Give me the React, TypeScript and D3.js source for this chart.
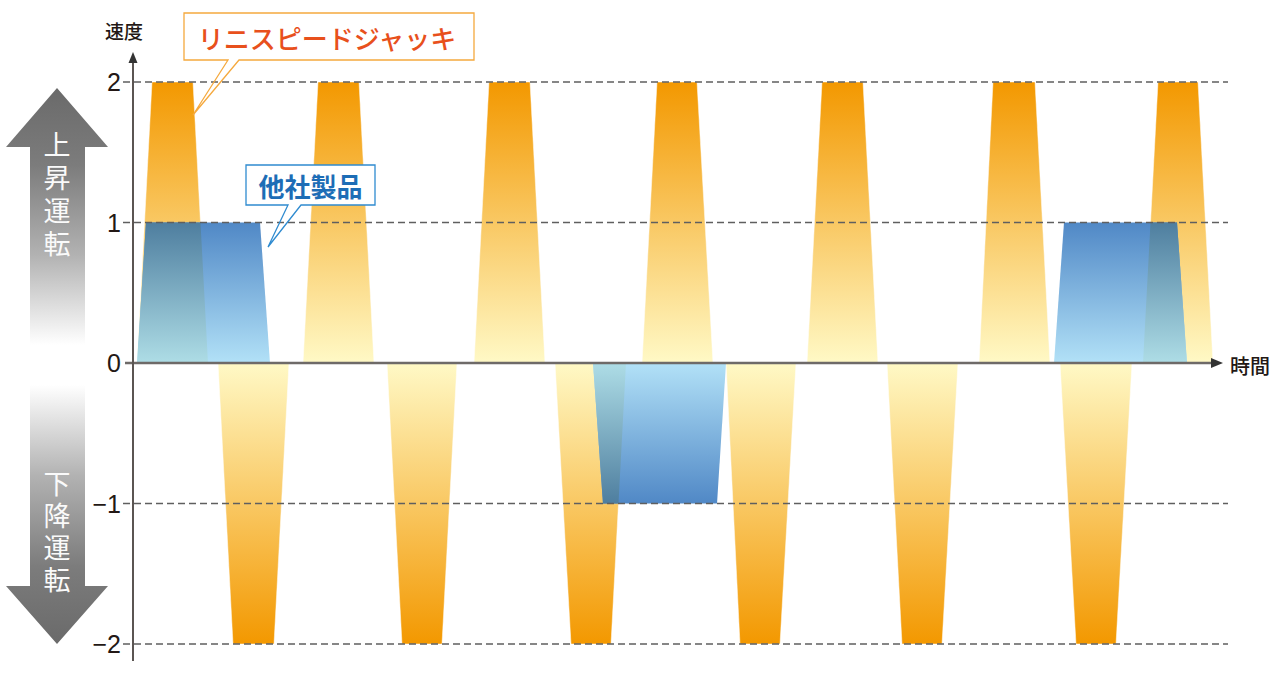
import React from "react"
import * as d3 from "d3"

// speed profiles, time in arbitrary units (0..108), speed in steps (-2..2)
const jackTimes: number[][] = [
  [0.4, 1.9, 6.0, 7.5],
  [8.5, 10.0, 14.1, 15.6],
  [17.0, 18.5, 22.6, 24.1],
  [25.4, 26.9, 30.9, 32.4],
  [34.1, 35.6, 39.7, 41.2],
  [42.2, 43.8, 47.8, 49.3],
  [50.9, 52.4, 56.4, 58.0],
  [59.3, 60.7, 64.7, 66.3],
  [67.4, 68.9, 73.0, 74.5],
  [75.4, 76.9, 80.9, 82.5],
  [84.6, 86.0, 90.2, 91.7],
  [92.7, 94.3, 98.3, 99.9],
  [101.0, 102.5, 106.5, 108.0],
]
const jackSpeeds = [2, -2, 2, -2, 2, -2, 2, -2, 2, -2, 2, -2, 2]

const otherTimes: number[][] = [
  [0.4, 1.3, 12.7, 13.7],
  [46.0, 47.0, 58.4, 59.3],
  [92.1, 93.1, 104.4, 105.4],
]
const otherSpeeds = [1, -1, 1]

const yTicks = [2, 1, 0, -1, -2]
const yTickLabels = ["2", "1", "0", "−1", "−2"]
const gridTicks = [2, 1, -1, -2]

const yTitle = "速度"
const xTitle = "時間"
const jackLabel = "リニスピードジャッキ"
const otherLabel = "他社製品"
const upLabel = "上昇運転"
const downLabel = "下降運転"

const W = 1280
const H = 680
const JP = "'Noto Sans CJK JP', 'Noto Sans', sans-serif"
const NUM = "'Liberation Sans', Arial, sans-serif"

type Pt = { t: number; v: number }

const toPoints = (times: number[], v: number): Pt[] => [
  { t: times[0], v: 0 },
  { t: times[1], v },
  { t: times[2], v },
  { t: times[3], v: 0 },
]

export default function App() {
  const x = d3.scaleLinear().domain([0, 108]).range([133, 1213])
  const y = d3.scaleLinear().domain([-2, 2]).range([644, 82])

  const area = d3
    .area<Pt>()
    .x((d) => x(d.t))
    .y0(y(0))
    .y1((d) => y(d.v))

  const jackPaths = jackTimes.map((tt, i) => ({
    d: area(toPoints(tt, jackSpeeds[i])) as string,
    up: jackSpeeds[i] > 0,
  }))
  const otherPaths = otherTimes.map((tt, i) => ({
    d: area(toPoints(tt, otherSpeeds[i])) as string,
    up: otherSpeeds[i] > 0,
  }))

  const axisX0 = x.range()[0]
  const gridEnd = 1228

  const grad = (id: string, from: number, to: number, stops: [string, string][]) => (
    <linearGradient id={id} gradientUnits="userSpaceOnUse" x1="0" x2="0" y1={from} y2={to}>
      {stops.map(([o, c]) => (
        <stop key={o} offset={o} stopColor={c} />
      ))}
    </linearGradient>
  )
  const orangeStops: [string, string][] = [["0%", "#fff9c6"], ["50%", "#f9c863"], ["100%", "#f39800"]]
  const blueStops: [string, string][] = [["0%", "#b2e1f7"], ["100%", "#5088c6"]]
  const overlapStops: [string, string][] = [["0%", "#aedde6"], ["100%", "#4e7e9f"]]
  const arrowStops: [string, string][] = [["0%", "#6a6a6a"], ["30%", "#7c7c7c"], ["65%", "#b2b2b2"], ["100%", "#ffffff"]]

  return (
    <div style={{ position: "absolute", left: 0, top: 0 }}>
      <svg width={W} height={H} style={{ display: "block", background: "#fff" }}>
        <defs>
          {grad("orUp", y(0), y(2), orangeStops)}
          {grad("orDown", y(0), y(-2), orangeStops)}
          {grad("blUp", y(0), y(1), blueStops)}
          {grad("blDown", y(0), y(-1), blueStops)}
          {grad("ovUp", y(0), y(1), overlapStops)}
          {grad("ovDown", y(0), y(-1), overlapStops)}
          {grad("arUp", 88, 345, arrowStops)}
          {grad("arDown", 644, 385, arrowStops)}
          <clipPath id="jackClip">
            {jackPaths.map((p, i) => (
              <path key={i} d={p.d} />
            ))}
          </clipPath>
        </defs>

        {/* direction arrows */}
        <path d="M57,88 L108,147 L85,147 L85,345 L30,345 L30,147 L6,147 Z" fill="url(#arUp)" />
        <path d="M57,644 L108,586 L85,586 L85,385 L30,385 L30,586 L6,586 Z" fill="url(#arDown)" />
        <text x={57} y={131} fill="#fafafa" fontSize={27} fontFamily={JP} letterSpacing={6}
          style={{ writingMode: "vertical-rl" }}>{upLabel}</text>
        <text x={57} y={470} fill="#fafafa" fontSize={27} fontFamily={JP} letterSpacing={5}
          style={{ writingMode: "vertical-rl" }}>{downLabel}</text>

        {/* linear speed jack */}
        {jackPaths.map((p, i) => (
          <path key={"j" + i} d={p.d} fill={p.up ? "url(#orUp)" : "url(#orDown)"}
            stroke="#fff" strokeOpacity={0.6} strokeWidth={0.8} />
        ))}
        {/* other products */}
        {otherPaths.map((p, i) => (
          <path key={"o" + i} d={p.d} fill={p.up ? "url(#blUp)" : "url(#blDown)"} />
        ))}
        {/* where both overlap */}
        <g clipPath="url(#jackClip)">
          {otherPaths.map((p, i) => (
            <path key={"m" + i} d={p.d} fill={p.up ? "url(#ovUp)" : "url(#ovDown)"} />
          ))}
        </g>

        {/* dashed grid */}
        {gridTicks.map((t) => (
          <line key={"g" + t} x1={123} x2={gridEnd} y1={y(t)} y2={y(t)}
            stroke="#5f5f5f" strokeWidth={1.4} strokeDasharray="7,4" />
        ))}

        {/* axes */}
        <line x1={125} x2={1214} y1={y(0)} y2={y(0)} stroke="#6e6a68" strokeWidth={2.4} />
        <path d={`M1223,${y(0)} L1211,${y(0) - 5} L1211,${y(0) + 5} Z`} fill="#333" />
        <line x1={axisX0} x2={axisX0} y1={661} y2={60} stroke="#5b5552" strokeWidth={2} />
        <path d={`M${axisX0},52 L${axisX0 - 4.5},63 L${axisX0 + 4.5},63 Z`} fill="#333" />

        {yTicks.map((t, i) => (
          <text key={"t" + t} x={121} y={y(t)} textAnchor="end" dominantBaseline="central"
            fontSize={25} fontFamily={NUM} fill="#231815">{yTickLabels[i]}</text>
        ))}

        <text x={124} y={30} textAnchor="middle" dominantBaseline="central" fontSize={19}
          fontFamily={JP} fontWeight={500} fill="#231815">{yTitle}</text>
        <text x={1250} y={365} textAnchor="middle" dominantBaseline="central" fontSize={20}
          fontFamily={JP} fontWeight={500} fill="#231815">{xTitle}</text>

        {/* callout: jack */}
        <rect x={184} y={13} width={290} height={47} fill="#fff" />
        <path d="M228,60 L184,60 L184,13 L474,13 L474,60 L239,60 L193,115 Z" fill="none"
          stroke="#f5a93e" strokeWidth={1.3} />
        <text x={327} y={37} textAnchor="middle" dominantBaseline="central" fontSize={26}
          fontFamily={JP} fontWeight={500} fill="#e8501c">{jackLabel}</text>

        {/* callout: others */}
        <rect x={246} y={165} width={129} height={40} fill="#fff" />
        <path d="M288,205 L246,205 L246,165 L375,165 L375,205 L301,205 L268,247 Z" fill="none"
          stroke="#2f8bd0" strokeWidth={1.3} />
        <text x={310.5} y={185} textAnchor="middle" dominantBaseline="central" fontSize={26}
          fontFamily={JP} fontWeight={700} fill="#1d6db6">{otherLabel}</text>
      </svg>
    </div>
  )
}
